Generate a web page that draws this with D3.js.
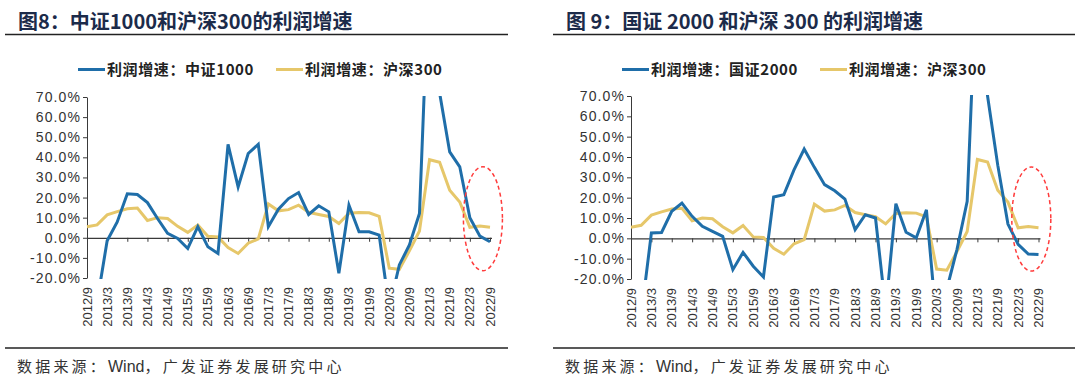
<!DOCTYPE html>
<html>
<head>
<meta charset="utf-8">
<script src="https://cdn.jsdelivr.net/npm/d3@7"></script>
<style>
  html, body { margin: 0; padding: 0; background: #fff; }
  svg { display: block; }
</style>
</head>
<body>
<script>
// quarterly report periods, 2012/9 .. 2022/9
const quarters = ["2012/9","2012/12","2013/3","2013/6","2013/9","2013/12","2014/3","2014/6","2014/9","2014/12",
  "2015/3","2015/6","2015/9","2015/12","2016/3","2016/6","2016/9","2016/12","2017/3","2017/6",
  "2017/9","2017/12","2018/3","2018/6","2018/9","2018/12","2019/3","2019/6","2019/9","2019/12",
  "2020/3","2020/6","2020/9","2020/12","2021/3","2021/6","2021/9","2021/12","2022/3","2022/6","2022/9"];
const tickQuarters = ["2012/9","2013/3","2013/9","2014/3","2014/9","2015/3","2015/9","2016/3","2016/9","2017/3",
  "2017/9","2018/3","2018/9","2019/3","2019/9","2020/3","2020/9","2021/3","2021/9","2022/3","2022/9"];
const yTicks = [-20, -10, 0, 10, 20, 30, 40, 50, 60, 70];

// profit growth, %
const hs300 = [5.5, 6.4, 11.4, 13, 14.4, 14.8, 8.6, 10, 9.6, 5.7,
  2.7, 6.3, 0.7, 0.4, -4.9, -7.8, -2.7, -0.6, 16.8, 13.4,
  14, 16.2, 12.7, 11.6, 10.6, 7.1, 12.2, 12.6, 12.4, 10.6,
  -15.1, -15.7, -6.5, 3.4, 38.8, 37.5, 23.6, 17.8, 5.2, 5.8, 5.2];
const csi1000 = [-40, -32, -1.5, 7.9, 21.9, 21.5, 17.5, 9.6, 2.2, -0.3,
  -5.3, 5.5, -4.5, -7.8, 46.4, 25.3, 41.9, 46.5, 5.5, 14.2,
  19.5, 22.5, 11.6, 15.9, 12.9, -17.7, 16.2, 3, 3, 1.3,
  -35, -13.5, -3.6, 12.1, 140, 72, 42.7, 35.3, 10, 0.8, -2];
const gz2000 = [-45, -38, 2.6, 2.9, 13.3, 17.3, 10.8, 5.9, 3.4, 1,
  -15.4, -6.9, -13.7, -19, 20.3, 21.4, 33.7, 43.9, 34.9, 26.4,
  23.4, 19.3, 4.3, 11.6, 10, -35, 17, 3, 0.2, 14,
  -42, -25, -5.4, 18.2, 140, 70, 36, 7, -3, -7.7, -8];

const blue = '#1f6ea9', gold = '#e6c76a', axisColor = '#3a3a3a';
const cjk = '"Noto Sans CJK SC", "Noto Sans", sans-serif';
const latin = '"Liberation Sans", Arial, sans-serif';
const W = 1080, H = 387;

const svg = d3.select('body').append('svg').attr('width', W).attr('height', H);

const panel = (id, {left, right, x0, x1, yTop, yBot, title, blueName, blueData}) => {
    const x = d3.scalePoint().domain(quarters).range([x0, x1]);
    const y = d3.scaleLinear().domain([-20, 70]).range([yBot, yTop]);
    const g = svg.append('g');

    // title + rule
    g.append('text')
        .attr('x', left + 13).attr('y', 29)
        .attr('font-family', cjk).attr('font-size', 20).attr('font-weight', 'bold')
        .attr('fill', '#1c2b4a')
        .text(title);
    g.append('line')
        .attr('x1', left).attr('x2', right).attr('y1', 34.5).attr('y2', 34.5)
        .attr('stroke', '#222').attr('stroke-width', 1.5);

    // legend
    const legend = [{name: blueName, color: blue}, {name: '利润增速：沪深300', color: gold}];
    const lg = g.append('g').selectAll('g').data(legend).join('g')
        .attr('transform', (d, i) => `translate(${x0 - 9 + i * 198}, 69.5)`);
    lg.append('line').attr('x1', 0).attr('x2', 27).attr('stroke', d => d.color).attr('stroke-width', 3);
    lg.append('text')
        .attr('x', 29).attr('dy', '0.36em')
        .attr('font-family', cjk).attr('font-size', 15).attr('font-weight', 'bold')
        .attr('letter-spacing', 0.6).attr('fill', '#222')
        .text(d => d.name);

    // y axis
    const ya = g.append('g')
        .attr('transform', `translate(${x0}, 0)`)
        .call(d3.axisLeft(y).tickValues(yTicks).tickSize(4).tickSizeOuter(0).tickPadding(2)
            .tickFormat(d => d.toFixed(1) + '%'));
    ya.select('.domain').attr('stroke', axisColor);
    ya.selectAll('.tick line').attr('stroke', axisColor);
    ya.selectAll('.tick text')
        .attr('font-family', latin).attr('font-size', 14).attr('letter-spacing', 1.1)
        .attr('fill', '#333');

    // x axis at zero, labels low
    const xa = g.append('g')
        .attr('transform', `translate(0, ${y(0)})`)
        .call(d3.axisBottom(x).tickValues(tickQuarters).tickSize(4).tickSizeOuter(0).tickFormat(''));
    xa.select('.domain').attr('stroke', axisColor).attr('stroke-width', 1.2)
        .attr('d', `M${x0},0.5H${x1 + 2}`);
    xa.selectAll('.tick line').attr('stroke', axisColor);

    g.append('g').selectAll('text').data(tickQuarters).join('text')
        .attr('transform', d => `translate(${x(d) + 4.5}, ${yBot + 9}) rotate(-90)`)
        .attr('text-anchor', 'end')
        .attr('font-family', latin).attr('font-size', 13).attr('fill', '#333')
        .text(d => d);

    // lines, clipped to the value range
    svg.append('clipPath').attr('id', id)
        .append('rect').attr('x', x0 - 2).attr('y', yTop - 1).attr('width', x1 - x0 + 8).attr('height', yBot - yTop + 2);

    const line = d3.line().x((d, i) => x(quarters[i])).y(d => y(d));
    const lines = g.append('g').attr('clip-path', `url(#${id})`);
    lines.append('path').datum(hs300)
        .attr('fill', 'none').attr('stroke', gold).attr('stroke-width', 3)
        .attr('d', line);
    lines.append('path').datum(blueData)
        .attr('fill', 'none').attr('stroke', blue).attr('stroke-width', 3)
        .attr('d', line);

    // highlight ellipse
    g.append('ellipse')
        .attr('cx', x('2022/6') + 3).attr('cy', y(9.5))
        .attr('rx', 19.5).attr('ry', 52)
        .attr('fill', 'none').attr('stroke', '#ff3b3b').attr('stroke-width', 1.5)
        .attr('stroke-dasharray', '4,3');

    // source
    g.append('line')
        .attr('x1', left).attr('x2', right).attr('y1', 348).attr('y2', 348)
        .attr('stroke', '#222').attr('stroke-width', 1.5);
    const src = g.append('text')
        .attr('x', left + 12).attr('y', 372)
        .attr('font-family', cjk).attr('font-size', 15).attr('fill', '#333');
    src.append('tspan').attr('letter-spacing', 3.2).text('数据来源：');
    src.append('tspan').attr('font-family', latin).attr('font-size', 16).attr('letter-spacing', 0).text('Wind');
    src.append('tspan').attr('letter-spacing', 3.2).text('，广发证券发展研究中心');
};

panel('clip-a', {left: 5, right: 508, x0: 87, x1: 490, yTop: 97, yBot: 278,
    title: '图8：中证1000和沪深300的利润增速', blueName: '利润增速：中证1000', blueData: csi1000});
panel('clip-b', {left: 553, right: 1075, x0: 631, x1: 1038.5, yTop: 96, yBot: 279,
    title: '图 9：国证 2000 和沪深 300 的利润增速', blueName: '利润增速：国证2000', blueData: gz2000});
</script>
</body>
</html>
